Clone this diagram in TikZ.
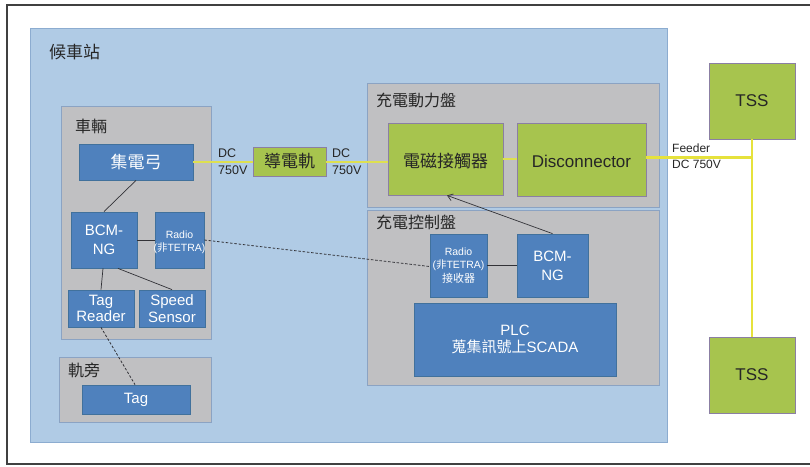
\documentclass[tikz,border=0pt]{standalone}
\usepackage{fontspec}
\setmainfont{Liberation Sans}
\newfontfamily\cjk{Noto Sans CJK TC}
\usetikzlibrary{arrows.meta,calc}

\definecolor{stationfill}{RGB}{176,203,229}
\definecolor{stationline}{RGB}{140,172,208}
\definecolor{panelfill}{RGB}{192,192,194}
\definecolor{panelline}{RGB}{139,163,195}
\definecolor{devfill}{RGB}{79,129,189}
\definecolor{devline}{RGB}{65,113,156}
\definecolor{powfill}{RGB}{167,196,78}
\definecolor{powline}{RGB}{139,127,163}
\definecolor{feedcol}{RGB}{230,226,60}
\definecolor{railcol}{RGB}{222,224,80}
\definecolor{txt}{RGB}{38,38,38}
\definecolor{wirecol}{RGB}{50,50,55}

\begin{document}
\begin{tikzpicture}[x=1pt,y=-1pt,
  container/.style={draw=panelline, fill=panelfill, line width=0.8pt, inner sep=0pt},
  devbox/.style={draw=devline, fill=devfill, line width=0.8pt, text=white, align=center, inner sep=0pt},
  powbox/.style={draw=powline, fill=powfill, line width=0.8pt, text=txt, align=center, inner sep=0pt},
  grouplabel/.style={anchor=west, inner sep=0pt, text=txt, font={\cjk\fontsize{16}{19}\selectfont}},
  voltlabel/.style={anchor=west, inner sep=0pt, text=txt, font=\fontsize{12.5}{15}\selectfont},
  wire/.style={draw=wirecol, line width=0.7pt},
  radiolink/.style={draw=wirecol, line width=0.8pt, dash pattern=on 2.5pt off 1.8pt},
  feedline/.style={draw=feedcol, line width=2.6pt},
  railline/.style={draw=railcol, line width=2pt},
]
\useasboundingbox (0,0) rectangle (810,466);

% outer frame
\draw[draw={rgb,255:red,64;green,64;blue,64}, line width=1.5pt] (830,5) -- (7,5) -- (7,464) -- (830,464);

% station area
\node[draw=stationline, fill=stationfill, line width=0.8pt, minimum width=637pt, minimum height=414pt, inner sep=0pt] (station) at (348.5,235) {};
\node[grouplabel, font={\cjk\fontsize{17}{20}\selectfont}] (lblstation) at (49,52) {候車站};

% vehicle
\node[container, minimum width=150pt, minimum height=233pt] (vehicle) at (136,222.5) {};
\node[grouplabel] (lblvehicle) at (75,126) {車輛};
\node[devbox, minimum width=114pt, minimum height=36pt, font={\cjk\fontsize{17}{20}\selectfont}] (pant) at (136,162) {集電弓};
\node[devbox, minimum width=66pt, minimum height=56pt, font=\fontsize{15}{19}\selectfont] (bcmL) at (104,240) {BCM-\\NG};
\node[devbox, minimum width=49pt, minimum height=56pt] (radioL) at (179.5,240) {};
\node[text=white, align=center, inner sep=0pt, font=\fontsize{10.5}{12.5}\selectfont] (radioLtxt) at ($(radioL.center)+(0,2.5)$) {Radio\\({\cjk 非}TETRA)};
\node[devbox, minimum width=66pt, minimum height=37pt, font=\fontsize{15}{16.5}\selectfont] (reader) at (101,308.5) {Tag\\Reader};
\node[devbox, minimum width=66pt, minimum height=37pt, font=\fontsize{15}{16.5}\selectfont] (speed) at (172,308.5) {Speed\\Sensor};

% wayside
\node[container, minimum width=152pt, minimum height=65pt] (wayside) at (135,389.5) {};
\node[grouplabel] (lblwayside) at (68,370) {軌旁};
\node[devbox, minimum width=108pt, minimum height=29pt, font=\fontsize{15}{18}\selectfont] (tag) at (136,399.5) {Tag};

% conductor rail
\node[powbox, minimum width=73pt, minimum height=29pt, font={\cjk\fontsize{17}{20}\selectfont}] (rail) at (289.5,161.5) {導電軌};

% charging power panel
\node[container, minimum width=292pt, minimum height=124pt] (powpanel) at (513,145) {};
\node[grouplabel] (lblpow) at (376,100) {充電動力盤};
\node[powbox, minimum width=115pt, minimum height=72pt, font={\cjk\fontsize{17}{20}\selectfont}] (contactor) at (445.5,159) {};
\node[text=txt, inner sep=0pt, font={\cjk\fontsize{17}{20}\selectfont}] (contactortxt) at ($(contactor.center)+(0,2)$) {電磁接觸器};
\node[powbox, minimum width=129pt, minimum height=73pt] (disc) at (581.5,159.5) {};
\node[text=txt, inner sep=0pt, font=\fontsize{17}{20}\selectfont] (disctxt) at ($(disc.center)+(0,2)$) {Disconnector};

% charging control panel
\node[container, minimum width=292pt, minimum height=175pt] (ctrlpanel) at (513,297.5) {};
\node[grouplabel] (lblctrl) at (376,222.5) {充電控制盤};
\node[devbox, minimum width=57pt, minimum height=63pt, font=\fontsize{10.5}{13.5}\selectfont] (radioR) at (458.5,265.5) {Radio\\({\cjk 非}TETRA)\\{\cjk\fontsize{11}{13.5}\selectfont 接收器}};
\node[devbox, minimum width=71pt, minimum height=63pt, font=\fontsize{15}{19}\selectfont] (bcmR) at (552.5,265.5) {BCM-\\NG};
\node[devbox, minimum width=202pt, minimum height=73pt, font=\fontsize{15}{17}\selectfont] (plc) at (515,339.5) {PLC\\{\cjk 蒐集訊號上}SCADA};

% traction substations
\node[powbox, minimum width=86pt, minimum height=76pt, font=\fontsize{17}{20}\selectfont] (tss1) at (752,101) {TSS};
\node[powbox, minimum width=86pt, minimum height=76pt, font=\fontsize{17}{20}\selectfont] (tss2) at (752,375) {TSS};

% 750 V DC power path
\draw[railline] (pant.east) -- (pant.east -| rail.west);
\draw[railline] (rail.east) -- (rail.east -| contactor.west);
\draw[railline] (contactor.east) -- (contactor.east -| disc.west);
\coordinate (feedjoin) at ($(disc.east -| tss1.south)+(0,-2)$);
\draw[feedline] ($(disc.east)+(0,-2)$) -- (feedjoin);
\draw[feedline] (tss1.south) -- (tss2.north);

\node[voltlabel] (dc1a) at (218,153) {DC};
\node[voltlabel] (dc1b) at (218,170.5) {750V};
\node[voltlabel] (dc2a) at (332,153) {DC};
\node[voltlabel] (dc2b) at (332,170.5) {750V};
\node[voltlabel, font=\fontsize{12}{14}\selectfont] (feeder) at (672,148) {Feeder};
\node[voltlabel, font=\fontsize{12}{14}\selectfont] (feeddc) at (672,164.5) {DC 750V};

% signal connections
\draw[wire] (pant.south) -- (bcmL.north);
\draw[wire] (bcmL.east) -- (radioL.west);
\draw[wire] ($(bcmL.south)+(-1,0)$) -- (reader.north);
\draw[wire] ($(bcmL.south)+(14,0)$) -- (speed.north);
\draw[radiolink] (reader.south) -- ($(tag.north)+(-1,0)$);
\draw[radiolink] (radioL.east) -- ($(radioR.west)+(0,1)$);
\draw[wire] (radioR.east) -- (bcmR.west);
\draw[wire, -{Straight Barb[length=5pt,width=7pt]}] (bcmR.north) -- ($(contactor.south)+(1.5,0)$);
\end{tikzpicture}
\end{document}
